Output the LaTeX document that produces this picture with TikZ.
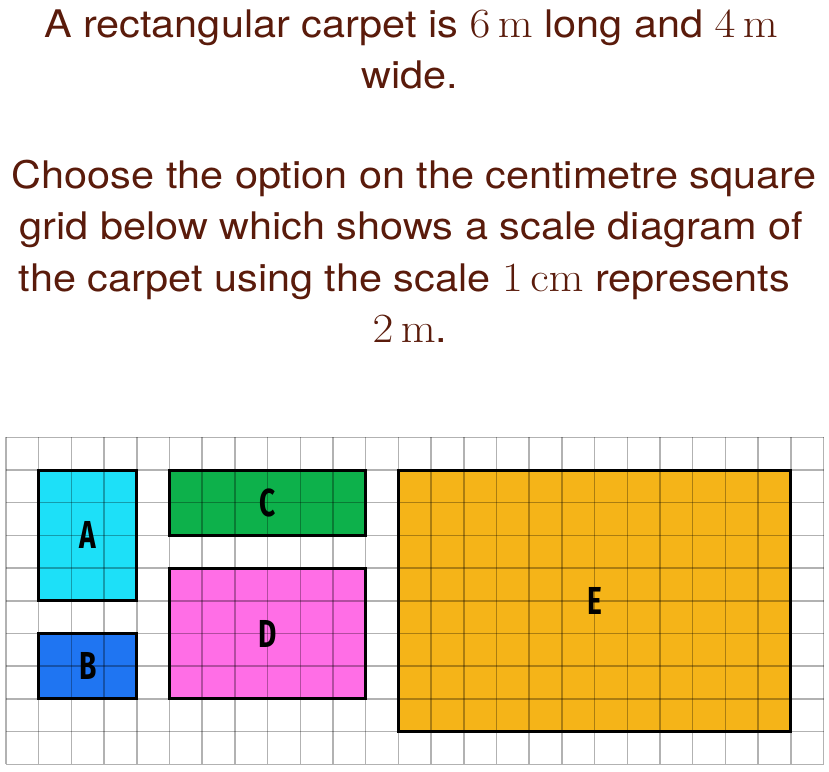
\RequirePackage{fix-cm}
\documentclass[tikz,border=0pt]{standalone}
\usepackage[no-math]{fontspec}
\setmainfont{TeX Gyre Heros}
\newfontfamily\labelfont{Fira Sans}
\usepackage{graphicx}
\definecolor{txtbrown}{HTML}{5A1B0B}
\definecolor{cA}{HTML}{1DE0F8}
\definecolor{cB}{HTML}{1F75F2}
\definecolor{cC}{HTML}{0DB14B}
\definecolor{cD}{HTML}{FF6EE6}
\definecolor{cE}{HTML}{F5B418}
\newcommand\mth[1]{{\fontsize{41.5}{42}\selectfont$#1$}}
\newcommand\lbl[1]{\scalebox{0.72}[1]{#1}}
\newcommand\wide[1]{\scalebox{1.09}[1]{#1}}
\begin{document}
\begin{tikzpicture}[x=1pt,y=-1pt,
  qtext/.style={anchor=base, text=txtbrown, inner sep=0pt, font=\fontsize{38}{45}\selectfont},
  gridline/.style={draw=black, draw opacity=0.3, line width=1.5pt},
  border/.style={draw=black, line width=3pt},
  lab/.style={inner sep=0pt, text=black, font=\labelfont\bfseries\fontsize{39}{39}\selectfont}]
\useasboundingbox[fill=white] (0,0) rectangle (829,771);
\node[qtext] (l1) at (411,37.5) {\wide{A rectangular carpet is \mth{6\,\mathrm{m}} long and \mth{4\,\mathrm{m}}}};
\node[qtext] (l2) at (410,88.5) {\wide{wide.}};
\node[qtext] (l3) at (414,188.5) {\wide{Choose the option on the centimetre square}};
\node[qtext] (l4) at (411.5,239.5) {\wide{grid below which shows a scale diagram of}};
\node[qtext] (l5) at (404.5,291) {\wide{the carpet using the scale \mth{1\,\mathrm{cm}} represents}};
\node[qtext] (l6) at (410,342.5) {\wide{\mth{2\,\mathrm{m}}.}};
\begin{scope}[shift={(6,437.3)}, x=32.7pt, y=-32.7pt]
  \fill[cA] (1,1) rectangle (4,5);
  \fill[cB] (1,6) rectangle (4,8);
  \fill[cC] (5,1) rectangle (11,3);
  \fill[cD] (5,4) rectangle (11,8);
  \fill[cE] (12,1) rectangle (24,9);
  \foreach \i in {0,...,25} \draw[gridline] (\i,0) -- (\i,10);
  \foreach \j in {0,...,10} \draw[gridline] (0,\j) -- (25,\j);
  \draw[border] (1,1) rectangle (4,5);
  \draw[border] (1,6) rectangle (4,8);
  \draw[border] (5,1) rectangle (11,3);
  \draw[border] (5,4) rectangle (11,8);
  \draw[border] (12,1) rectangle (24,9);
  \node[lab] (A) at (2.5,3) {\lbl{A}};
  \node[lab] (B) at (2.5,7) {\lbl{B}};
  \node[lab] (C) at (8,2) {\lbl{C}};
  \node[lab] (D) at (8,6) {\lbl{D}};
  \node[lab] (E) at (18,5) {\lbl{E}};
\end{scope}
\end{tikzpicture}
\end{document}
